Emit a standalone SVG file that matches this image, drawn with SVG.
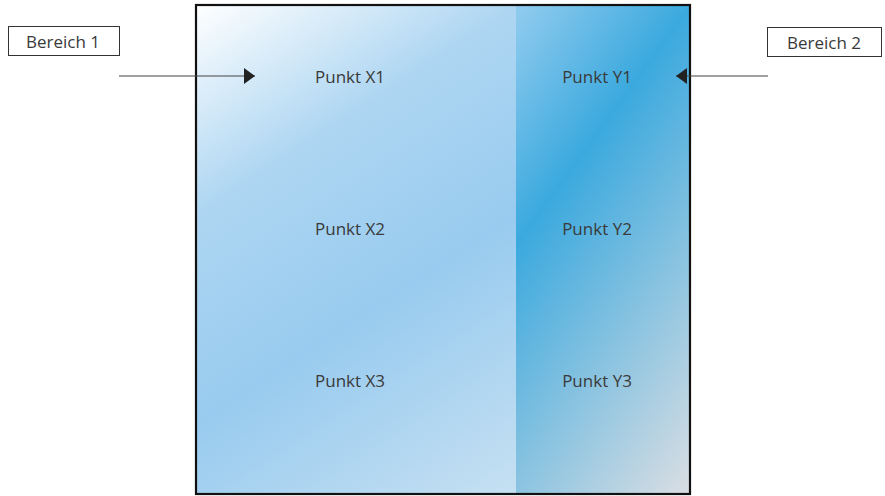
<svg xmlns="http://www.w3.org/2000/svg" width="885" height="496" viewBox="0 0 885 496">
<style>
.t{font-family:"Open Sans","Liberation Sans",sans-serif;font-size:17px;fill:#3a3a3a;text-anchor:middle;dominant-baseline:central}
.lbl{fill:#fff;stroke:#333;stroke-width:1}
.ln{stroke:#444;stroke-width:1.1;fill:none}
</style>
<defs>
<linearGradient id="gL" x1="196" y1="5" x2="516" y2="494" gradientUnits="userSpaceOnUse">
<stop offset="0" stop-color="#ffffff"/>
<stop offset="0.3" stop-color="#aed6f2"/>
<stop offset="0.6" stop-color="#98cbef"/>
<stop offset="1" stop-color="#c6e0f2"/>
</linearGradient>
<linearGradient id="gR" x1="516" y1="5" x2="862" y2="257" gradientUnits="userSpaceOnUse">
<stop offset="0" stop-color="#92ccef"/>
<stop offset="0.33" stop-color="#3ba9de"/>
<stop offset="1" stop-color="#dadee3"/>
</linearGradient>
<marker id="ah" viewBox="0 0 11 16" refX="11" refY="8" markerWidth="11" markerHeight="16" markerUnits="userSpaceOnUse" orient="auto">
<path d="M0,0 L11,8 L0,16 z" fill="#222"/>
</marker>
</defs>
<g id="frame">
<rect x="196" y="5" width="320" height="489" fill="url(#gL)"/>
<rect x="516" y="5" width="174" height="489" fill="url(#gR)"/>
<rect x="196" y="5" width="494" height="489" fill="none" stroke="#111" stroke-width="2.2"/>
</g>
<g id="bereich1"><rect class="lbl" x="8.5" y="26.5" width="111" height="29"/><text class="t" x="63" y="41">Bereich 1</text></g>
<g id="bereich2"><rect class="lbl" x="767.5" y="27.5" width="114" height="29"/><text class="t" x="824" y="42">Bereich 2</text></g>
<g id="x1"><text class="t" x="350" y="76">Punkt X1</text></g>
<g id="x2"><text class="t" x="350" y="228">Punkt X2</text></g>
<g id="x3"><text class="t" x="350" y="380">Punkt X3</text></g>
<g id="y1"><text class="t" x="597" y="76">Punkt Y1</text></g>
<g id="y2"><text class="t" x="597" y="228">Punkt Y2</text></g>
<g id="y3"><text class="t" x="597" y="380">Punkt Y3</text></g>
<g id="connectors">
<line class="ln" x1="119" y1="76" x2="255" y2="76" marker-end="url(#ah)"/>
<line class="ln" x1="768" y1="76" x2="676" y2="76" marker-end="url(#ah)"/>
</g>
</svg>
